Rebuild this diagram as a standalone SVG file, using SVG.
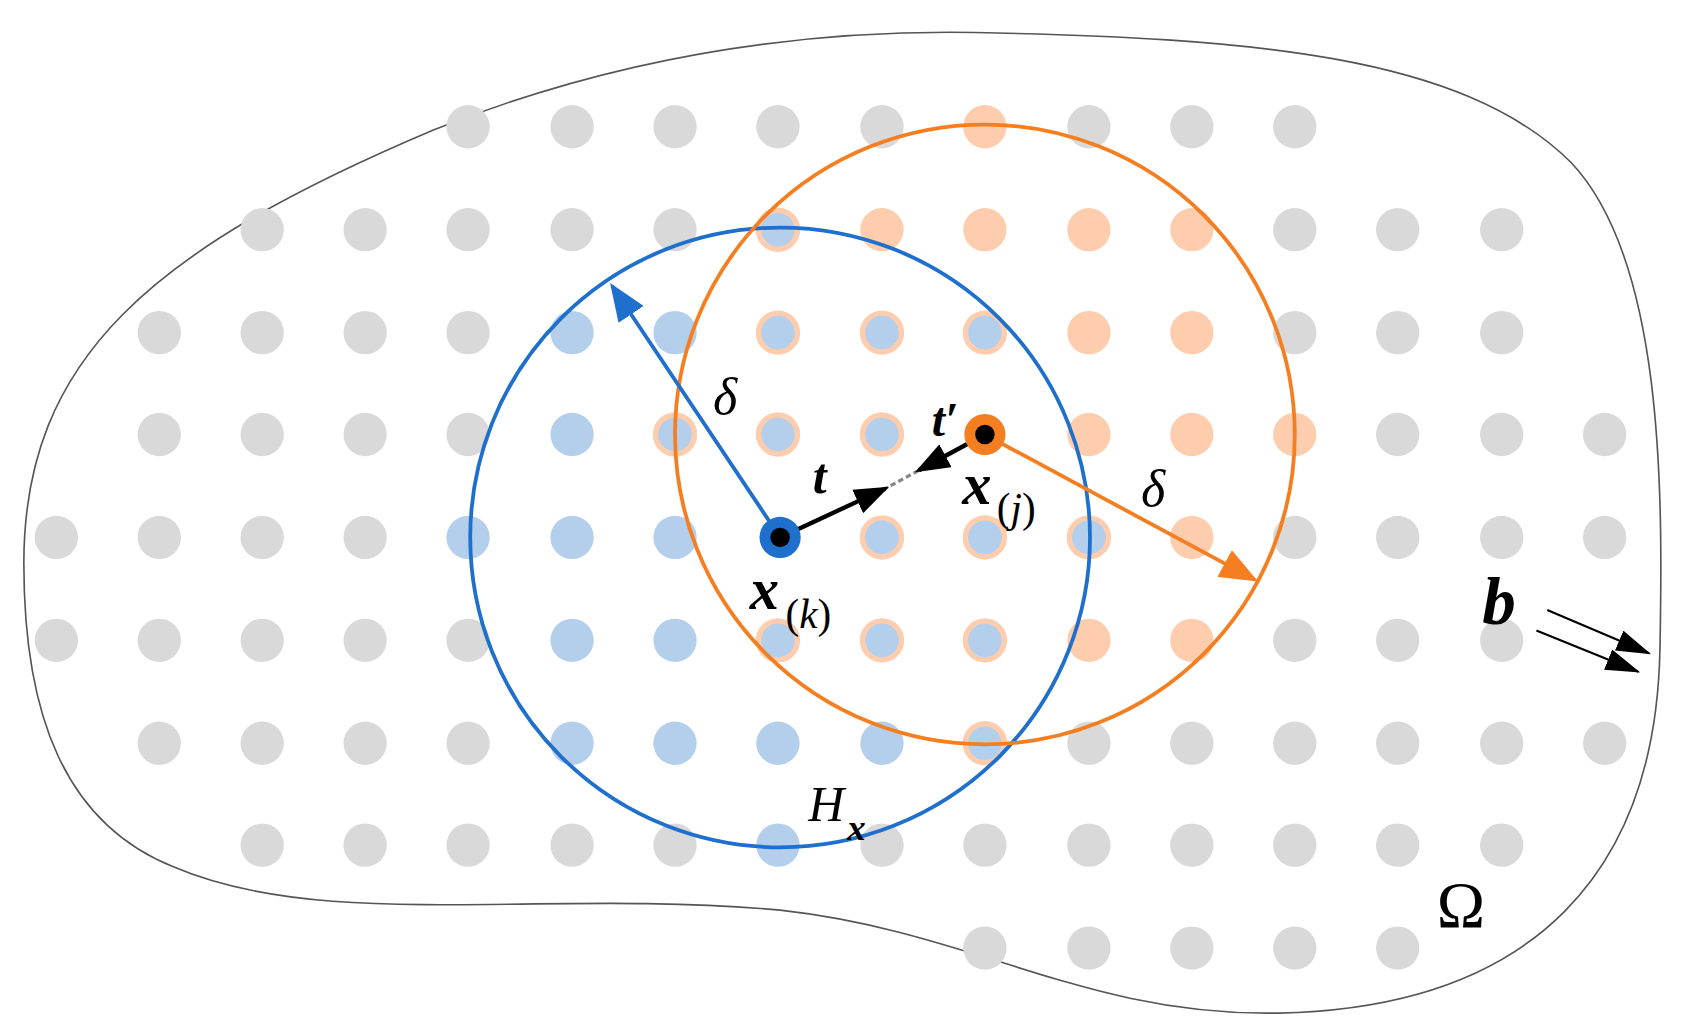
<svg xmlns="http://www.w3.org/2000/svg" width="1699" height="1033" viewBox="0 0 1699 1033">
<defs>
<style>
.g{fill:#d9d9d9}.b{fill:#b4cfec}.o{fill:#fdcdae}.bo{fill:#b4cfec;stroke:#fdcdae;stroke-width:5}
.lbl{font-family:"Liberation Serif",serif;fill:#000}
</style>
<marker id="mb" markerWidth="10" markerHeight="8" refX="9" refY="4" orient="auto" markerUnits="strokeWidth"><path d="M0,0L10,4L0,8Z" fill="#1f6fcc"/></marker>
<marker id="mo" markerWidth="10" markerHeight="8" refX="9" refY="4" orient="auto" markerUnits="strokeWidth"><path d="M0,0L10,4L0,8Z" fill="#f57f20"/></marker>
<marker id="mk" markerWidth="8" markerHeight="6" refX="7" refY="3" orient="auto" markerUnits="strokeWidth"><path d="M0,0L8,3L0,6Z" fill="#000"/></marker>
<marker id="mk2" markerWidth="16" markerHeight="10" refX="15" refY="5" orient="auto" markerUnits="strokeWidth"><path d="M0,0L16,5L0,10Z" fill="#000"/></marker>
</defs>
<rect width="1699" height="1033" fill="#fff"/>
<g transform="scale(1.0835)">
<path d="M22,520 C22,330 140,230 400,120 C600,40 780,28 900,30 C1150,35 1350,50 1450,150 C1535,240 1535,450 1532,600 C1528,800 1420,930 1180,935 C1000,938 900,860 720,840 C500,820 300,860 160,800 C60,760 22,660 22,520 Z" fill="none" stroke="#555" stroke-width="1.5"/>
<g id="dots">
<circle class="g" cx="432" cy="117" r="20"/><circle class="g" cx="528" cy="117" r="20"/><circle class="g" cx="623" cy="117" r="20"/><circle class="g" cx="718" cy="117" r="20"/><circle class="g" cx="814" cy="117" r="20"/><circle class="o" cx="909" cy="117" r="20"/><circle class="g" cx="1005" cy="117" r="20"/><circle class="g" cx="1100" cy="117" r="20"/><circle class="g" cx="1195" cy="117" r="20"/>
<circle class="g" cx="242" cy="212" r="20"/><circle class="g" cx="337" cy="212" r="20"/><circle class="g" cx="432" cy="212" r="20"/><circle class="g" cx="528" cy="212" r="20"/><circle class="g" cx="623" cy="212" r="20"/><circle class="bo" cx="718" cy="212" r="18"/><circle class="o" cx="814" cy="212" r="20"/><circle class="o" cx="909" cy="212" r="20"/><circle class="o" cx="1005" cy="212" r="20"/><circle class="o" cx="1100" cy="212" r="20"/><circle class="g" cx="1195" cy="212" r="20"/><circle class="g" cx="1290" cy="212" r="20"/><circle class="g" cx="1386" cy="212" r="20"/>
<circle class="g" cx="147" cy="307" r="20"/><circle class="g" cx="242" cy="307" r="20"/><circle class="g" cx="337" cy="307" r="20"/><circle class="g" cx="432" cy="307" r="20"/><circle class="b" cx="528" cy="307" r="20"/><circle class="b" cx="623" cy="307" r="20"/><circle class="bo" cx="718" cy="307" r="18"/><circle class="bo" cx="814" cy="307" r="18"/><circle class="bo" cx="909" cy="307" r="18"/><circle class="o" cx="1005" cy="307" r="20"/><circle class="o" cx="1100" cy="307" r="20"/><circle class="g" cx="1195" cy="307" r="20"/><circle class="g" cx="1290" cy="307" r="20"/><circle class="g" cx="1386" cy="307" r="20"/>
<circle class="g" cx="147" cy="401" r="20"/><circle class="g" cx="242" cy="401" r="20"/><circle class="g" cx="337" cy="401" r="20"/><circle class="g" cx="432" cy="401" r="20"/><circle class="b" cx="528" cy="401" r="20"/><circle class="bo" cx="623" cy="401" r="18"/><circle class="bo" cx="718" cy="401" r="18"/><circle class="bo" cx="814" cy="401" r="18"/><circle class="o" cx="1005" cy="401" r="20"/><circle class="o" cx="1100" cy="401" r="20"/><circle class="o" cx="1195" cy="401" r="20"/><circle class="g" cx="1290" cy="401" r="20"/><circle class="g" cx="1386" cy="401" r="20"/><circle class="g" cx="1481" cy="401" r="20"/>
<circle class="g" cx="52" cy="496" r="20"/><circle class="g" cx="147" cy="496" r="20"/><circle class="g" cx="242" cy="496" r="20"/><circle class="g" cx="337" cy="496" r="20"/><circle class="b" cx="432" cy="496" r="20"/><circle class="b" cx="528" cy="496" r="20"/><circle class="b" cx="623" cy="496" r="20"/><circle class="bo" cx="814" cy="496" r="18"/><circle class="bo" cx="909" cy="496" r="18"/><circle class="bo" cx="1005" cy="496" r="18"/><circle class="o" cx="1100" cy="496" r="20"/><circle class="g" cx="1195" cy="496" r="20"/><circle class="g" cx="1290" cy="496" r="20"/><circle class="g" cx="1386" cy="496" r="20"/><circle class="g" cx="1481" cy="496" r="20"/>
<circle class="g" cx="52" cy="591" r="20"/><circle class="g" cx="147" cy="591" r="20"/><circle class="g" cx="242" cy="591" r="20"/><circle class="g" cx="337" cy="591" r="20"/><circle class="g" cx="432" cy="591" r="20"/><circle class="b" cx="528" cy="591" r="20"/><circle class="b" cx="623" cy="591" r="20"/><circle class="bo" cx="718" cy="591" r="18"/><circle class="bo" cx="814" cy="591" r="18"/><circle class="bo" cx="909" cy="591" r="18"/><circle class="o" cx="1005" cy="591" r="20"/><circle class="o" cx="1100" cy="591" r="20"/><circle class="g" cx="1195" cy="591" r="20"/><circle class="g" cx="1290" cy="591" r="20"/><circle class="g" cx="1386" cy="591" r="20"/>
<circle class="g" cx="147" cy="686" r="20"/><circle class="g" cx="242" cy="686" r="20"/><circle class="g" cx="337" cy="686" r="20"/><circle class="g" cx="432" cy="686" r="20"/><circle class="b" cx="528" cy="686" r="20"/><circle class="b" cx="623" cy="686" r="20"/><circle class="b" cx="718" cy="686" r="20"/><circle class="b" cx="814" cy="686" r="20"/><circle class="bo" cx="909" cy="686" r="18"/><circle class="g" cx="1005" cy="686" r="20"/><circle class="g" cx="1100" cy="686" r="20"/><circle class="g" cx="1195" cy="686" r="20"/><circle class="g" cx="1290" cy="686" r="20"/><circle class="g" cx="1386" cy="686" r="20"/><circle class="g" cx="1481" cy="686" r="20"/>
<circle class="g" cx="242" cy="780" r="20"/><circle class="g" cx="337" cy="780" r="20"/><circle class="g" cx="432" cy="780" r="20"/><circle class="g" cx="528" cy="780" r="20"/><circle class="g" cx="623" cy="780" r="20"/><circle class="b" cx="718" cy="780" r="20"/><circle class="g" cx="814" cy="780" r="20"/><circle class="g" cx="909" cy="780" r="20"/><circle class="g" cx="1005" cy="780" r="20"/><circle class="g" cx="1100" cy="780" r="20"/><circle class="g" cx="1195" cy="780" r="20"/><circle class="g" cx="1290" cy="780" r="20"/><circle class="g" cx="1386" cy="780" r="20"/>
<circle class="g" cx="909" cy="875" r="20"/><circle class="g" cx="1005" cy="875" r="20"/><circle class="g" cx="1100" cy="875" r="20"/><circle class="g" cx="1195" cy="875" r="20"/><circle class="g" cx="1290" cy="875" r="20"/>
</g>
<g id="horizon-k"><circle cx="720" cy="496" r="286" fill="none" stroke="#1f6fcc" stroke-width="3.5"/></g>
<g id="horizon-j"><circle cx="909" cy="401" r="286" fill="none" stroke="#f57f20" stroke-width="3.5"/></g>
<g id="connectors">
<line x1="720" y1="496" x2="565" y2="264" stroke="#1f6fcc" stroke-width="3.5" marker-end="url(#mb)"/>
<line x1="909" y1="401" x2="1158" y2="535" stroke="#f57f20" stroke-width="3.5" marker-end="url(#mo)"/>
<line x1="815" y1="452" x2="852" y2="432" stroke="#888" stroke-width="3" stroke-dasharray="5,3"/>
<line x1="720" y1="496" x2="817" y2="451" stroke="#000" stroke-width="4" marker-end="url(#mk)"/>
<line x1="909" y1="401" x2="848" y2="434" stroke="#000" stroke-width="4" marker-end="url(#mk)"/>
<line x1="1428" y1="563" x2="1522" y2="603" stroke="#000" stroke-width="2" marker-end="url(#mk2)"/>
<line x1="1418" y1="582" x2="1512" y2="620" stroke="#000" stroke-width="2" marker-end="url(#mk2)"/>
</g>
<g id="node-k"><circle cx="720" cy="496" r="19" fill="#1f6fcc"/><circle cx="720" cy="496" r="9" fill="#000"/></g>
<g id="node-j"><circle cx="909" cy="401" r="19" fill="#f57f20"/><circle cx="909" cy="401" r="9" fill="#000"/></g>
<g id="labels">
<text class="lbl" x="658" y="382" font-size="48" font-style="italic">δ</text>
<text class="lbl" x="1053" y="467" font-size="48" font-style="italic">δ</text>
<text class="lbl" x="750" y="455" font-size="46" font-style="italic" font-weight="bold">t</text>
<text class="lbl" x="860" y="402" font-size="44" font-style="italic" font-weight="bold">t′</text>
<text class="lbl" x="692" y="562" font-size="54" font-style="italic" font-weight="bold">x</text>
<text class="lbl" x="725" y="580" font-size="38">(<tspan font-style="italic">k</tspan>)</text>
<text class="lbl" x="888" y="465" font-size="54" font-style="italic" font-weight="bold">x</text>
<text class="lbl" x="920" y="482" font-size="38">(<tspan font-style="italic">j</tspan>)</text>
<text class="lbl" x="746" y="758" font-size="46" font-style="italic">H</text>
<text class="lbl" x="782" y="775" font-size="34" font-style="italic" font-weight="bold">x</text>
<text class="lbl" x="1326" y="856" font-size="60">Ω</text>
<text class="lbl" x="1368" y="576" font-size="62" font-style="italic" font-weight="bold">b</text>
</g>
</g>
</svg>
